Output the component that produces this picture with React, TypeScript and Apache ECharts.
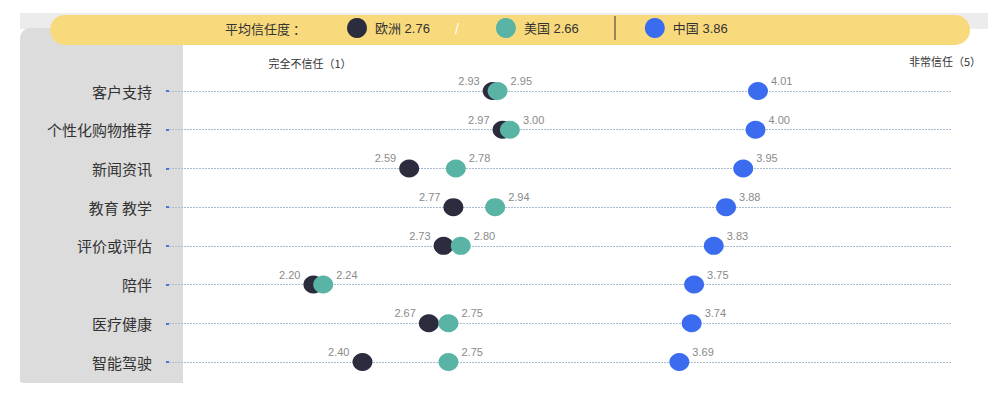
import * as React from 'react';
import * as echarts from 'echarts';

// Trust scores by application area (1 = no trust at all, 5 = full trust)
const categories = ['客户支持', '个性化购物推荐', '新闻资讯', '教育 教学', '评价或评估', '陪伴', '医疗健康', '智能驾驶'];
const regions = ['欧洲', '美国', '中国'];
const averages = [2.76, 2.66, 3.86];
const europe = [2.93, 2.97, 2.59, 2.77, 2.73, 2.2, 2.67, 2.4];
const usa = [2.95, 3.0, 2.78, 2.94, 2.8, 2.24, 2.75, 2.75];
const china = [4.01, 4.0, 3.95, 3.88, 3.83, 3.75, 3.74, 3.69];
const scaleEnds = ['完全不信任（1）', '非常信任（5）'];

const COLORS = ['#2b2c3e', '#5ab4a5', '#3b6cf0'];
const CJK = '"Noto Sans CJK SC", "Noto Sans", sans-serif';
const NUM = '"Liberation Sans", "Noto Sans CJK SC", sans-serif';

export default function App() {
  const chartRef = React.useRef<HTMLDivElement>(null);

  React.useEffect(() => {
    document.body.style.margin = '0';
    if (!chartRef.current) return;
    const chart = echarts.init(chartRef.current, undefined, { renderer: 'svg' });

    const makeSeries = (name: string, values: number[], idx: number) => ({
      name,
      type: 'scatter',
      data: values.map((v, i) => [v, categories[i]]),
      symbol: 'circle',
      symbolSize: [20, 18],
      itemStyle: { color: COLORS[idx], opacity: 1 },
      z: 3 + idx,
      label: {
        show: true,
        position: idx === 0 ? 'left' : 'right',
        distance: 3,
        offset: [0, -10],
        formatter: (p: any) => p.value[0].toFixed(2),
        color: '#8a8a8a',
        fontSize: 11,
        fontFamily: NUM,
      },
    });

    chart.setOption({
      animation: false,
      textStyle: { fontFamily: CJK },
      graphic: [
        { type: 'rect', z: -10, shape: { x: 20, y: 13, width: 968, height: 16 }, style: { fill: '#ececec' } },
        { type: 'rect', z: -9, shape: { x: 20, y: 28, width: 163, height: 355, r: [10, 0, 0, 3] }, style: { fill: '#dcdcdc' } },
        { type: 'rect', z: -8, shape: { x: 50, y: 15, width: 920, height: 30, r: 15 }, style: { fill: '#f8d97c' } },
        { type: 'text', z: 5, x: 225, y: 28, style: { text: '平均信任度 ：', fill: '#333', fontSize: 13, fontFamily: CJK, verticalAlign: 'middle' } },
        { type: 'text', z: 5, x: 455, y: 29, style: { text: '/', fill: '#ffffff', fontSize: 14, fontFamily: NUM, verticalAlign: 'middle' } },
        { type: 'line', z: 5, shape: { x1: 615, y1: 16, x2: 615, y2: 40 }, style: { stroke: '#333', lineWidth: 1 } },
        { type: 'text', z: 5, x: 310, y: 63, style: { text: scaleEnds[0], fill: '#333', fontSize: 11, fontFamily: CJK, align: 'center', verticalAlign: 'middle' } },
        { type: 'text', z: 5, x: 981, y: 61, style: { text: scaleEnds[1], fill: '#333', fontSize: 11, fontFamily: CJK, align: 'right', verticalAlign: 'middle' } },
      ],
      legend: {
        left: 342,
        top: 13,
        itemWidth: 20,
        itemHeight: 20,
        itemGap: 66,
        icon: 'circle',
        selectedMode: false,
        data: regions,
        formatter: (name: string) => `${name} ${averages[regions.indexOf(name)].toFixed(2)}`,
        textStyle: { color: '#333', fontSize: 13, fontFamily: NUM, padding: [0, 0, 0, 3] },
      },
      grid: { left: 166, right: 56, top: 91, bottom: 44 },
      xAxis: {
        type: 'value',
        min: 1.6,
        max: 4.8,
        show: false,
      },
      yAxis: {
        type: 'category',
        data: categories,
        inverse: true,
        boundaryGap: false,
        axisLine: { show: false },
        axisTick: { show: true, inside: true, length: 3, lineStyle: { color: '#4a74d8', width: 2 } },
        axisLabel: { color: '#333', fontSize: 15, margin: 14, fontFamily: CJK },
        splitLine: { show: true, lineStyle: { color: '#a7bbd2', type: [2, 1], width: 1 } },
      },
      series: [makeSeries(regions[0], europe, 0), makeSeries(regions[1], usa, 1), makeSeries(regions[2], china, 2)],
    });

    return () => {
      chart.dispose();
    };
  }, []);

  return <div ref={chartRef} style={{ width: 1008, height: 406 }} />;
}
